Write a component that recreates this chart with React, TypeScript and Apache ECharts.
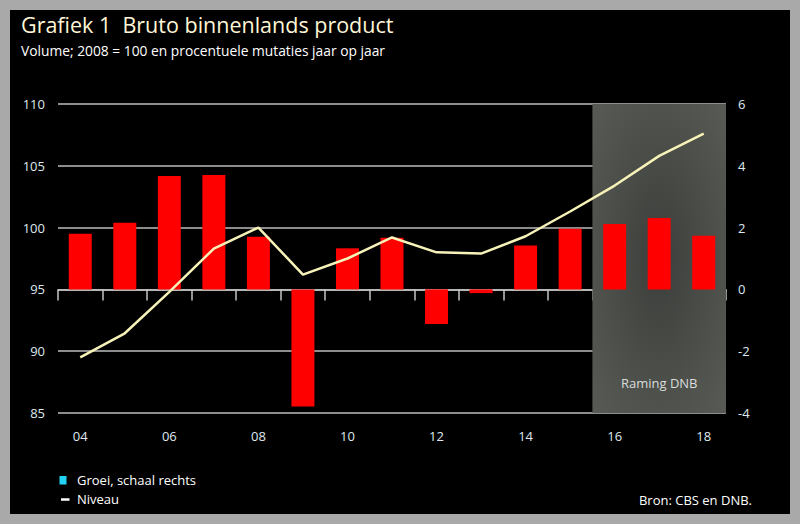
import React, { useEffect, useRef } from "react";
import * as echarts from "echarts";

const years = ["2004", "2005", "2006", "2007", "2008", "2009", "2010", "2011", "2012", "2013", "2014", "2015", "2016", "2017", "2018"];
const growth = [1.8, 2.16, 3.67, 3.7, 1.7, -3.79, 1.33, 1.67, -1.12, -0.12, 1.42, 1.96, 2.12, 2.31, 1.74];
const level = [89.5, 91.45, 94.8, 98.3, 100.0, 96.2, 97.5, 99.2, 98.0, 97.9, 99.3, 101.3, 103.4, 105.8, 107.6];
const leftTicks = { min: 85, max: 110, interval: 5 };
const rightTicks = { min: -4, max: 6, interval: 2 };
const forecastYears = ["2016", "2018"];

const FONT = "'Open Sans', 'DejaVu Sans', sans-serif";
const LABEL = "#dfe8ee";

export default function App() {
  const ref = useRef<HTMLDivElement>(null);
  useEffect(() => {
    if (!ref.current) return;
    const chart = echarts.init(ref.current, null, { renderer: "svg" });
    // category edges of the forecast span, on a hidden value axis that spans the category slots
    const fromEdge = years.indexOf(forecastYears[0]);
    const toEdge = years.indexOf(forecastYears[1]) + 1;
    chart.setOption({
      animation: false,
      backgroundColor: "#000",
      textStyle: { fontFamily: FONT },
      grid: { left: 48, top: 94, width: 668, height: 309, containLabel: false },
      xAxis: [
        {
          type: "category",
          data: years,
          boundaryGap: true,
          axisLine: { show: true, lineStyle: { color: "#c4c4c4", width: 1.5 } },
          axisTick: { show: true, interval: 0, length: 11, lineStyle: { color: "#c4c4c4", width: 1.5 } },
          axisLabel: {
            interval: 1,
            color: LABEL,
            fontSize: 13,
            margin: 16,
            fontFamily: FONT,
            formatter: (v: string) => v.slice(2),
          },
        },
        {
          type: "value",
          min: 0,
          max: years.length,
          show: false,
          splitLine: { show: false },
        },
      ],
      yAxis: [
        {
          type: "value",
          min: leftTicks.min,
          max: leftTicks.max,
          interval: leftTicks.interval,
          position: "left",
          axisLine: { show: false },
          axisTick: { show: false },
          axisLabel: { color: LABEL, fontSize: 13, margin: 13, fontFamily: FONT },
          splitLine: { show: true, lineStyle: { color: "#bcbcbc", width: 1.5 } },
        },
        {
          type: "value",
          min: rightTicks.min,
          max: rightTicks.max,
          interval: rightTicks.interval,
          position: "right",
          axisLine: { show: false },
          axisTick: { show: false },
          axisLabel: { color: LABEL, fontSize: 13, margin: 12, fontFamily: FONT },
          splitLine: { show: false },
        },
      ],
      series: [
        {
          name: "shade",
          type: "line",
          z: -1,
          xAxisIndex: 1,
          yAxisIndex: 1,
          data: [],
          showSymbol: false,
          silent: true,
          markArea: {
            silent: true,
            itemStyle: {
              color: {
                type: "radial",
                x: 0.5,
                y: 0.5,
                r: 0.75,
                colorStops: [
                  { offset: 0, color: "#3b3e3a" },
                  { offset: 1, color: "#5a5d57" },
                ],
              },
            },
            label: {
              show: true,
              position: "insideBottom",
              distance: 24,
              color: "#d9dcdc",
              fontSize: 13,
              fontFamily: FONT,
            },
            data: [[{ xAxis: fromEdge, name: "Raming DNB" }, { xAxis: toEdge }]],
          },
        },
        {
          name: "Groei, schaal rechts",
          type: "bar",
          yAxisIndex: 1,
          data: growth,
          barWidth: 23,
          itemStyle: { color: "#ff0000" },
          z: 3,
        },
        {
          name: "Niveau",
          type: "line",
          yAxisIndex: 0,
          data: level,
          showSymbol: false,
          lineStyle: { color: "#f6f2b8", width: 2.5 },
          z: 4,
        },
      ],
      graphic: [
        {
          type: "text",
          left: 11,
          top: 3,
          style: { text: "Grafiek 1  Bruto binnenlands product", fill: "#fff6d6", fontSize: 21.5, fontFamily: FONT },
        },
        {
          type: "text",
          left: 11,
          top: 33,
          style: { text: "Volume; 2008 = 100 en procentuele mutaties jaar op jaar", fill: "#ffffff", fontSize: 13.8, fontFamily: FONT },
        },
        {
          type: "rect",
          shape: { x: 49.5, y: 466, width: 7, height: 8.5 },
          style: { fill: "#22d2f2" },
        },
        {
          type: "text",
          x: 67,
          y: 470,
          style: { text: "Groei, schaal rechts", fill: "#ffffff", fontSize: 13, fontFamily: FONT, textVerticalAlign: "middle" },
        },
        {
          type: "line",
          shape: { x1: 51, y1: 489.5, x2: 59.5, y2: 489.5 },
          style: { stroke: "#ffffff", lineWidth: 2.5 },
        },
        {
          type: "text",
          x: 67,
          y: 489,
          style: { text: "Niveau", fill: "#ffffff", fontSize: 13, fontFamily: FONT, textVerticalAlign: "middle" },
        },
        {
          type: "text",
          x: 742,
          y: 490,
          style: { text: "Bron: CBS en DNB.", fill: "#ffffff", fontSize: 13, fontFamily: FONT, textAlign: "right", textVerticalAlign: "middle" },
        },
      ],
    });
    return () => chart.dispose();
  }, []);
  return (
    <div style={{ position: "fixed", left: 0, top: 0, width: 800, height: 524, background: "#a9a9a9" }}>
      <div ref={ref} style={{ position: "absolute", left: 10, top: 10, width: 780, height: 504 }} />
    </div>
  );
}
